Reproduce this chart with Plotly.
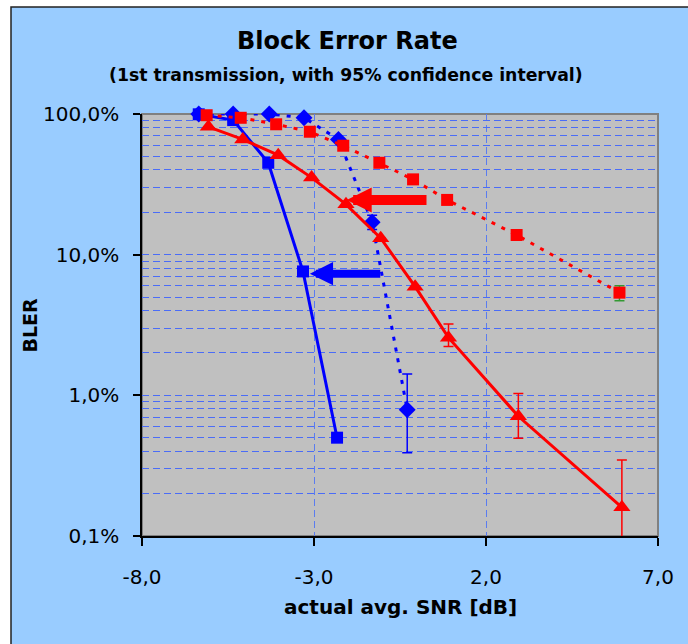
import plotly.graph_objects as go

# ---------------- data ----------------
snr_blue_sq = [-6.35, -5.35, -4.33, -3.32, -2.33]
bler_blue_sq = [99.5, 90.5, 45.0, 7.6, 0.5]

snr_blue_dia = [-6.35, -5.35, -4.30, -3.29, -2.29, -1.31, -0.29]
bler_blue_dia = [100.0, 100.0, 100.0, 94.0, 66.0, 17.0, 0.79]
err_blue_dia_plus = [0, 0, 0, 0, 0, 2.1, 0.63]
err_blue_dia_minus = [0, 0, 0, 0, 0, 1.9, 0.40]

snr_red_sq = [-6.12, -5.13, -4.10, -3.12, -2.15, -1.10, -0.12, 0.87, 2.89, 5.88]
bler_red_sq = [98.0, 94.0, 84.5, 74.8, 59.5, 45.0, 34.3, 24.5, 13.8, 5.37]
err_red_sq_plus = [0, 0, 0, 0, 0, 0, 0, 0, 0, 0.65]
err_red_sq_minus = [0, 0, 0, 0, 0, 0, 0, 0, 0, 0.66]

snr_red_tri = [-6.07, -5.07, -4.04, -3.07, -2.07, -1.06, -0.06, 0.91, 2.94, 5.95]
bler_red_tri = [81.0, 66.0, 51.0, 35.3, 22.8, 13.1, 5.92, 2.57, 0.71, 0.16]
err_red_tri_plus = [0, 0, 0, 0, 0, 0, 0, 0.64, 0.32, 0.187]
err_red_tri_minus = [0, 0, 0, 0, 0, 0, 0, 0.35, 0.215, 0.075]

x_tickvals = [-8, -3, 2, 7]
x_ticktext = ["-8,0", "-3,0", "2,0", "7,0"]
y_decades = [0.1, 1, 10, 100]
y_decade_text = ["0,1%", "1,0%", "10,0%", "100,0%"]
# grid lines at every 1..9 x decade; labels only on decades
y_gridvals = [k * d for d in (0.1, 1, 10) for k in range(1, 10)] + [100]
y_gridtext = [y_decade_text[y_decades.index(v)] if v in y_decades else "" for v in y_gridvals]

title_text = "Block Error Rate"
subtitle_text = "(1st transmission, with 95% confidence interval)"
x_title = "actual avg. SNR [dB]"
y_title = "BLER"

# ---------------- layout geometry (pixels) ----------------
W, H = 688, 644
L, R, T, B = 142, 30, 114, 108
PW, PH = W - L - R, H - T - B


def px(xpix):
    return (xpix - L) / PW


def py(ypix):
    return (H - B - ypix) / PH


FONT = "DejaVu Sans"
GRID = "#4A6CF7"
DASH = "7px,4px"

fig = go.Figure()

fig.add_trace(go.Scatter(
    x=snr_blue_sq, y=bler_blue_sq, mode="lines+markers",
    line=dict(color="#0000FF", width=3),
    marker=dict(symbol="square", size=12, color="#0000FF"),
    cliponaxis=False, showlegend=False))

fig.add_trace(go.Scatter(
    x=snr_blue_dia, y=bler_blue_dia, mode="lines+markers",
    line=dict(color="#0000FF", width=3, dash="4px,7px"),
    marker=dict(symbol="diamond", size=13, color="#0000FF"),
    error_y=dict(type="data", array=err_blue_dia_plus, arrayminus=err_blue_dia_minus,
                 color="#0000FF", thickness=1.5, width=5, symmetric=False),
    cliponaxis=False, showlegend=False))

fig.add_trace(go.Scatter(
    x=snr_red_tri, y=bler_red_tri, mode="lines+markers",
    line=dict(color="#FF0000", width=3),
    marker=dict(symbol="triangle-up", size=15, color="#FF0000"),
    error_y=dict(type="data", array=err_red_tri_plus, arrayminus=err_red_tri_minus,
                 color="#FF0000", thickness=1.5, width=5, symmetric=False),
    cliponaxis=False, showlegend=False))

fig.add_trace(go.Scatter(
    x=snr_red_sq, y=bler_red_sq, mode="lines+markers",
    line=dict(color="#FF0000", width=3, dash="4px,7px"),
    marker=dict(symbol="square", size=12, color="#FF0000"),
    error_y=dict(type="data", array=err_red_sq_plus, arrayminus=err_red_sq_minus,
                 color="#339933", thickness=1.5, width=5, symmetric=False),
    cliponaxis=False, showlegend=False))

shapes = [
    dict(type="rect", xref="paper", yref="paper", layer="below",
         x0=px(11), x1=px(W + 20), y0=py(7), y1=py(H + 20),
         fillcolor="#99CCFF", line=dict(color="#222222", width=1.5)),
    dict(type="rect", xref="paper", yref="paper", layer="below",
         x0=0, x1=1, y0=0, y1=1,
         fillcolor="#C0C0C0", line=dict(color="#808080", width=2)),
]

annotations = [
    dict(text="<b>%s</b>" % title_text, x=px(347), y=py(41), xref="paper", yref="paper",
         showarrow=False, xanchor="center", yanchor="middle",
         font=dict(family=FONT, size=24, color="black")),
    dict(text="<b>%s</b>" % subtitle_text, x=px(346), y=py(75), xref="paper", yref="paper",
         showarrow=False, xanchor="center", yanchor="middle",
         font=dict(family=FONT, size=17.3, color="black")),
    dict(text="<b>%s</b>" % x_title, x=0.5, y=py(607), xref="paper", yref="paper",
         showarrow=False, xanchor="center", yanchor="middle",
         font=dict(family=FONT, size=20, color="black")),
    dict(text="<b>%s</b>" % y_title, x=px(29.5), y=0.5, xref="paper", yref="paper",
         showarrow=False, xanchor="center", yanchor="middle", textangle=-90,
         font=dict(family=FONT, size=19, color="black")),
    # red arrow
    dict(text="", x=-2.05, y=1.389, ax=0.314, ay=1.389, xref="x", yref="y",
         axref="x", ayref="y", showarrow=True, arrowhead=2, arrowsize=0.5,
         arrowwidth=10, arrowcolor="#FF0000"),
    # blue arrow
    dict(text="", x=-3.12, y=0.865, ax=-1.03, ay=0.865, xref="x", yref="y",
         axref="x", ayref="y", showarrow=True, arrowhead=2, arrowsize=0.58,
         arrowwidth=8, arrowcolor="#0000FF"),
]

fig.update_layout(
    width=W, height=H,
    margin=dict(l=L, r=R, t=T, b=B, pad=0),
    paper_bgcolor="white", plot_bgcolor="#C0C0C0",
    font=dict(family=FONT, size=20, color="black"),
    shapes=shapes, annotations=annotations, showlegend=False,
    xaxis=dict(
        range=[-8, 7], tickvals=x_tickvals, ticktext=x_ticktext,
        showline=True, linecolor="black", linewidth=1.5,
        ticks="outside", ticklen=8, tickcolor="black", tickwidth=1.5,
        ticklabelstandoff=14,
        showgrid=True, gridcolor="#5A7CF0", gridwidth=1, griddash=DASH,
        zeroline=False, tickfont=dict(family=FONT, size=20, color="black"),
    ),
    yaxis=dict(
        type="log", range=[-1, 2], tickvals=y_gridvals, ticktext=y_gridtext,
        showline=True, linecolor="black", linewidth=1.5,
        ticks="", ticklabelstandoff=17,
        showgrid=True, gridcolor=GRID, gridwidth=1, griddash=DASH,
        minor=dict(tickvals=y_decades, ticks="outside", ticklen=7,
                   tickcolor="black", tickwidth=1.5, showgrid=False),
        zeroline=False, tickfont=dict(family=FONT, size=20, color="black"),
    ),
)

fig.write_html("out.html")
